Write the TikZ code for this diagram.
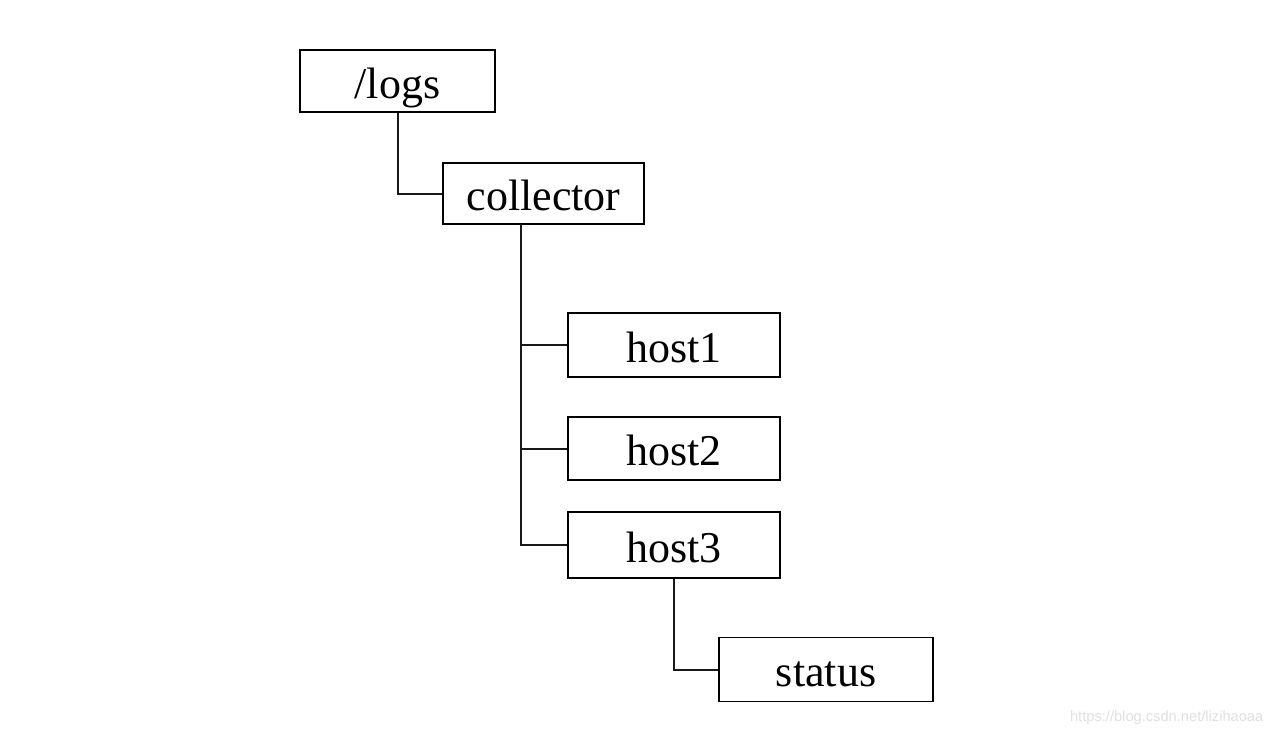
\documentclass[tikz,border=0pt]{standalone}
\usepackage{fontspec}
\setmainfont{Liberation Serif}
\newfontfamily\markfont{Liberation Sans}
\usepackage{tikz}
\usetikzlibrary{calc}

\begin{document}
\begin{tikzpicture}[x={(0.75pt,0)},y={(0,-0.75pt)},
        dirbox/.style={draw, line width=1.3pt, inner sep=0pt,
            text height=28pt, text depth=2.5pt,
            font=\fontsize{33}{40}\selectfont},
        branch/.style={line width=1.5pt, draw=black!90}]
        \useasboundingbox (0,0) rectangle (1275,736);

        \node[dirbox, minimum width=146pt, minimum height=46pt](logs) at (397.5,81){/logs};
        \node[dirbox, minimum width=151pt, minimum height=46pt](collector) at (543.5,193.5){collector};
        \node[dirbox, minimum width=159pt, minimum height=48pt](host1) at (674,345){host1};
        \node[dirbox, minimum width=159pt, minimum height=47pt](host2) at (674,448.5){host2};
        \node[dirbox, minimum width=159pt, minimum height=49pt](host3) at (674,545){host3};
        \node[dirbox, minimum width=160pt, minimum height=48pt](status) at (826,669.5){status};

        \coordinate(trunk) at (521,224);

        \draw[branch] (logs.south) |- (collector.west);
        \draw[branch] (trunk) |- (host1.west);
        \draw[branch] (trunk) |- (host2.west);
        \draw[branch] (trunk) |- (host3.west);
        \draw[branch] (host3.south) |- (status.west);

        \node(mark)[anchor=east, text=black!12, font=\markfont\fontsize{11}{13}\selectfont] at (1268,718){https://blog.csdn.net/lizihaoaa};
      \end{tikzpicture}
\end{document}
